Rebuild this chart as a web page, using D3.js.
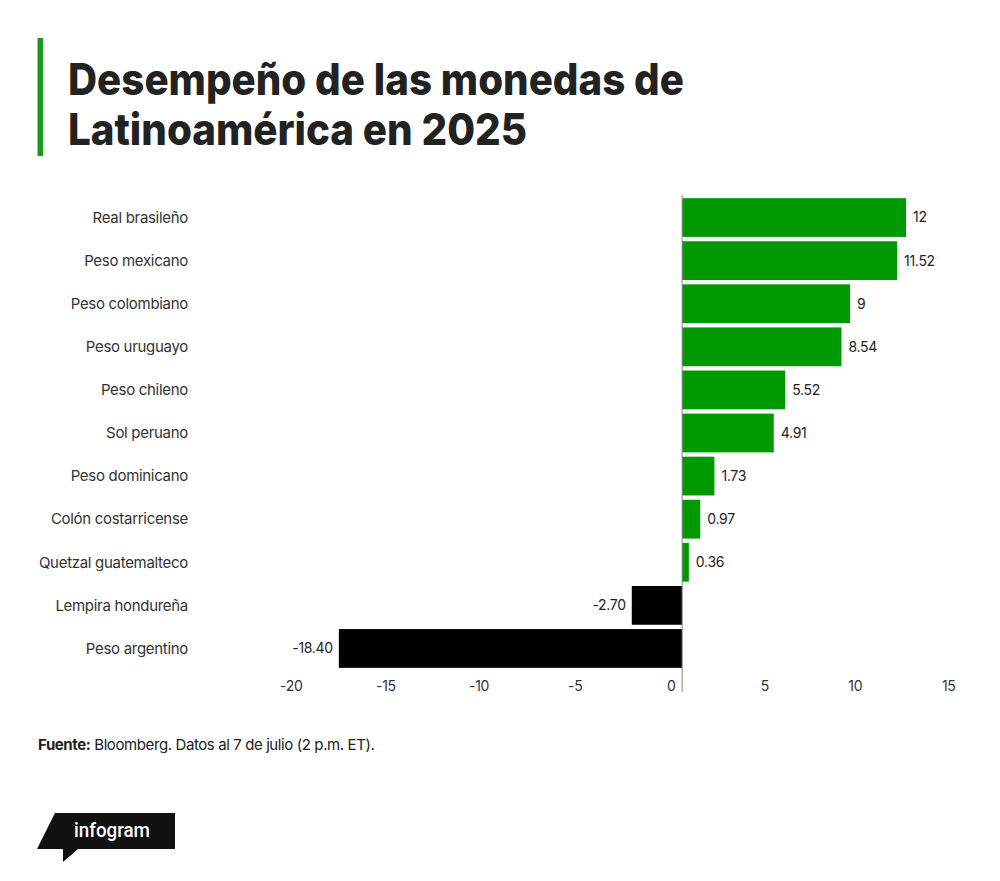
<!DOCTYPE html>
<html>
<head>
<meta charset="utf-8">
<script src="https://cdn.jsdelivr.net/npm/d3@7"></script>
<style>
  html, body { margin: 0; padding: 0; background: #fff; }
  svg { display: block; }
</style>
</head>
<body>
<svg id="chart" width="1000" height="881"></svg>
<script>
const titleLines = ["Desempeño de las monedas de", "Latinoamérica en 2025"];
const categories = ["Real brasileño", "Peso mexicano", "Peso colombiano", "Peso uruguayo", "Peso chileno", "Sol peruano", "Peso dominicano", "Colón costarricense", "Quetzal guatemalteco", "Lempira hondureña", "Peso argentino"];
const values = [12, 11.52, 9, 8.54, 5.52, 4.91, 1.73, 0.97, 0.36, -2.70, -18.40];
const valueLabels = ["12", "11.52", "9", "8.54", "5.52", "4.91", "1.73", "0.97", "0.36", "-2.70", "-18.40"];
const tickValues = [-20, -15, -10, -5, 0, 5, 10, 15];
const sourceBold = "Fuente:";
const sourceText = " Bloomberg. Datos al 7 de julio (2 p.m. ET).";

const FONT = "Inter, 'Liberation Sans', Arial, sans-serif";
const svg = d3.select("#chart");

// Title accent bar
svg.append("rect").attr("x", 37.5).attr("y", 38).attr("width", 5.5).attr("height", 118).attr("fill", "#1a9a1a");

// Title
const tW = [616, 459];
titleLines.forEach((t, i) => {
  svg.append("text")
    .attr("x", 68).attr("y", 95 + i * 50)
    .attr("font-family", FONT).attr("font-weight", 800).attr("font-size", 44)
    .attr("fill", "#222")
    .attr("textLength", tW[i]).attr("lengthAdjust", "spacingAndGlyphs")
    .text(t);
});

// Scales
const x = d3.scaleLinear().domain([-20, 15]).range([309, 962]);
const y = d3.scaleBand().domain(categories).range([196, 670]).paddingInner(0.1).paddingOuter(0.05);

const data = categories.map((c, i) => ({ c, v: values[i], l: valueLabels[i] }));

// Bars
svg.append("g").selectAll("rect").data(data).join("rect")
  .attr("x", d => x(Math.min(0, d.v)))
  .attr("y", d => y(d.c))
  .attr("width", d => Math.abs(x(d.v) - x(0)))
  .attr("height", y.bandwidth())
  .attr("fill", d => d.v >= 0 ? "#009a00" : "#000");

// Zero line
svg.append("line").attr("x1", x(0)).attr("x2", x(0)).attr("y1", 195).attr("y2", 692)
  .attr("stroke", "#888").attr("stroke-width", 1);

// Category labels
svg.append("g").selectAll("text").data(data).join("text")
  .attr("x", 188).attr("y", d => y(d.c) + y.bandwidth() / 2)
  .attr("dy", "0.35em").attr("text-anchor", "end")
  .attr("font-family", FONT).attr("font-size", 15).attr("letter-spacing", -0.3)
  .attr("fill", "#333").text(d => d.c);

// Value labels
svg.append("g").selectAll("text").data(data).join("text")
  .attr("x", d => d.v >= 0 ? x(d.v) + 7 : x(d.v) - 6)
  .attr("y", d => y(d.c) + y.bandwidth() / 2)
  .attr("dy", "0.35em").attr("text-anchor", d => d.v >= 0 ? "start" : "end")
  .attr("font-family", FONT).attr("font-size", 14).attr("letter-spacing", -0.3)
  .attr("fill", "#222").text(d => d.l);

// X axis
const axis = d3.axisBottom(x).tickValues(tickValues).tickSize(0).tickPadding(0).tickFormat(d => String(d));
const ax = svg.append("g").attr("transform", "translate(0,680)").call(axis);
ax.select(".domain").remove();
ax.selectAll("text")
  .attr("text-anchor", "end").attr("dx", -7).attr("dy", "0.75em").attr("y", 0)
  .attr("font-family", FONT).attr("font-size", 14).attr("letter-spacing", -0.3)
  .attr("fill", "#333");

// Source
const src = svg.append("text").attr("x", 38).attr("y", 750)
  .attr("font-family", FONT).attr("font-size", 15).attr("letter-spacing", -0.4).attr("fill", "#222");
src.append("tspan").attr("font-weight", 700).text(sourceBold);
src.append("tspan").text(sourceText);

// Infogram logo
svg.append("path")
  .attr("d", "M55,813 L175,813 L175,849 L78,849 L63,862 L63,849 L37,849 Z")
  .attr("fill", "#111");
svg.append("text").attr("x", 74).attr("y", 837)
  .attr("font-family", "Roboto, 'Liberation Sans', sans-serif").attr("font-weight", 500).attr("font-size", 20)
  .attr("fill", "#fff").attr("textLength", 76).attr("lengthAdjust", "spacingAndGlyphs")
  .text("infogram");
</script>
</body>
</html>
